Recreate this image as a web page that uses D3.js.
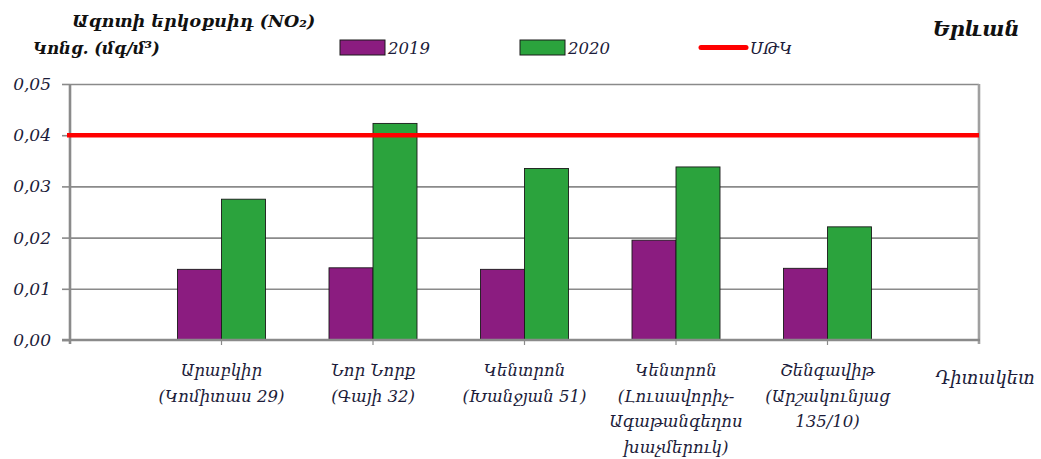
<!DOCTYPE html>
<html><head><meta charset="utf-8">
<script src="https://cdn.jsdelivr.net/npm/d3@7"></script>
<style>body{margin:0;background:#fff} svg{display:block}</style>
</head><body><svg id="chart" width="1041" height="459"></svg>
<script>
const categories = ["Արաբկիր","Նոր Նորք","Կենտրոն Խանջյան","Կենտրոն Լուսավորիչ","Շենգավիթ"];
const categoryLines = [
  ["Արաբկիր","(Կոմիտաս 29)"],
  ["Նոր  Նորք","(Գայի 32)"],
  ["Կենտրոն","(Խանջյան  51)"],
  ["Կենտրոն","(Լուսավորիչ-","Ագաթանգեղոս","խաչմերուկ)"],
  ["Շենգավիթ","(Արշակունյաց","135/10)"]
];
const seriesNames = ["2019","2020"];
const values2019 = [0.0138,0.0141,0.0138,0.0195,0.0140];
const values2020 = [0.0275,0.0423,0.0335,0.0338,0.0221];
const limitName = "ՍԹԿ";
const limitValue = 0.04;
const yTicks = [0,0.01,0.02,0.03,0.04,0.05];
const titleText = "Ազոտի երկօքսիդ  (NO₂)";
const unitText = "Կոնց. (մգ/մ³)";
const cityText = "Երևան";
const xAxisTitle = "Դիտակետ";

const colors = {"2019":"#8b1c80","2020":"#2ba33d"};
const seriesValues = {"2019":values2019,"2020":values2020};
const svg = d3.select("#chart");
const L = 70, R = 979, T = 84, B = 340;
const numFont = "'DejaVu Serif', serif";
const txtColor = "#1c1c3a";

const x = d3.scalePoint().domain(categories).range([L,R]).padding(1);
const x1 = d3.scaleBand().domain(seriesNames).range([-44,44]).padding(0);
const y = d3.scaleLinear().domain([0,0.05]).range([B,T]);

// gridlines
const grid = svg.append("g").attr("transform",`translate(${L},0)`)
  .call(d3.axisLeft(y).tickValues(yTicks.slice(1)).tickSize(-(R-L)).tickFormat(""));
grid.select(".domain").remove();
grid.selectAll("line").attr("stroke","#8a8a8a").attr("stroke-width",1.6);

// left axis with labels
const yAxis = svg.append("g").attr("transform",`translate(${L},0)`)
  .call(d3.axisLeft(y).tickValues(yTicks).tickSize(8).tickPadding(11)
    .tickFormat(d => d3.format(".2f")(d).replace(".",",")));
yAxis.select(".domain").remove();
yAxis.selectAll("line").attr("stroke","#8a8a8a").attr("stroke-width",1.6);
yAxis.selectAll("text").attr("font-family",numFont).attr("font-style","italic")
  .attr("font-size",17).attr("fill",txtColor);

// bars
const groups = svg.append("g").selectAll("g").data(categories).join("g")
  .attr("transform",d=>`translate(${x(d)},0)`);
groups.selectAll("rect").data((d,i)=>seriesNames.map(s=>({s,v:seriesValues[s][i]}))).join("rect")
  .attr("x",d=>x1(d.s)).attr("width",x1.bandwidth())
  .attr("y",d=>y(d.v)).attr("height",d=>B-y(d.v))
  .attr("fill",d=>colors[d.s]).attr("stroke","#1a1a1a").attr("stroke-width",0.9);

// frame axes
svg.append("line").attr("x1",L).attr("x2",L).attr("y1",T).attr("y2",B+4)
  .attr("stroke","#8a8a8a").attr("stroke-width",2.6);
svg.append("line").attr("x1",R).attr("x2",R).attr("y1",T).attr("y2",B+4)
  .attr("stroke","#a0a0a0").attr("stroke-width",2.6);
svg.append("line").attr("x1",L-8).attr("x2",R+1).attr("y1",B).attr("y2",B)
  .attr("stroke","#8a8a8a").attr("stroke-width",2.6);
svg.append("g").selectAll("line").data(categories).join("line")
  .attr("x1",d=>x(d)).attr("x2",d=>x(d)).attr("y1",B).attr("y2",B+5)
  .attr("stroke","#8a8a8a").attr("stroke-width",1.2);

// limit line
svg.append("line").attr("x1",L-3).attr("x2",R).attr("y1",y(limitValue)).attr("y2",y(limitValue))
  .attr("stroke","#ff0000").attr("stroke-width",4.5);

// category labels
const cl = svg.append("g").selectAll("text").data(categories).join("text")
  .attr("x",d=>x(d)).attr("y",376).attr("text-anchor","middle")
  .attr("font-family",numFont).attr("font-style","italic").attr("font-size",16.5).attr("fill",txtColor);
cl.selectAll("tspan").data((d,i)=>categoryLines[i]).join("tspan")
  .attr("x",function(){return x(d3.select(this.parentNode).datum());})
  .attr("dy",(d,i)=>i===0?0:25.5).text(d=>d);

svg.append("text").attr("x",985).attr("y",384).attr("text-anchor","middle")
  .attr("font-family",numFont).attr("font-style","italic").attr("font-size",18).attr("fill",txtColor)
  .text(xAxisTitle);

// titles
svg.append("text").attr("x",72).attr("y",27).attr("font-family",numFont).attr("font-style","italic")
  .attr("font-weight","bold").attr("font-size",17.5).attr("fill","#111").text(titleText);
svg.append("text").attr("x",33).attr("y",54).attr("font-family",numFont).attr("font-style","italic")
  .attr("font-weight","bold").attr("font-size",16.5).attr("fill","#111").text(unitText);
svg.append("text").attr("x",976).attr("y",36).attr("text-anchor","middle").attr("font-family",numFont).attr("font-style","italic")
  .attr("font-weight","bold").attr("font-size",21).attr("fill","#111").text(cityText);

// legend
const legend = svg.append("g");
const legX = {"2019":340,"2020":520};
seriesNames.forEach(s=>{
  legend.append("rect").attr("x",legX[s]).attr("y",40).attr("width",45).attr("height",15)
    .attr("fill",colors[s]).attr("stroke","#1a1a1a").attr("stroke-width",1);
  legend.append("text").attr("x",legX[s]+48).attr("y",54).attr("font-family",numFont).attr("font-style","italic")
    .attr("font-size",16.5).attr("fill",txtColor).text(s);
});
legend.append("line").attr("x1",701).attr("x2",746).attr("y1",47.5).attr("y2",47.5)
  .attr("stroke","#ff0000").attr("stroke-width",5).attr("stroke-linecap","round");
legend.append("text").attr("x",750).attr("y",54).attr("font-family",numFont).attr("font-style","italic")
  .attr("font-size",16.5).attr("fill",txtColor).text(limitName);
</script></body></html>
